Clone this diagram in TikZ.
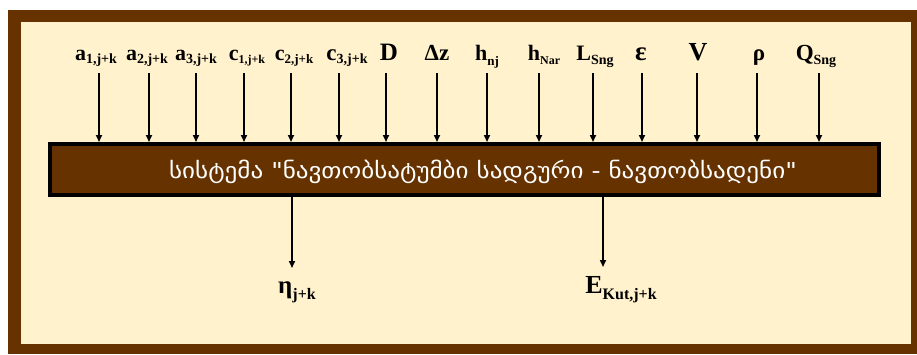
\documentclass[tikz,border=0pt]{standalone}
\usepackage{fontspec}
\setmainfont{Liberation Serif}
\newfontfamily\geofont{DejaVu Sans}
\usetikzlibrary{arrows.meta}
\definecolor{framebrown}{HTML}{663300}
\definecolor{cream}{HTML}{FFF2CC}
\newcommand{\lbl}[5]{{\fontsize{#1}{#1}\selectfont\bfseries #2}{\fontsize{#3}{#3}\selectfont\bfseries\raisebox{#5}{#4}}}
\newcommand{\mlab}[2]{{\fontsize{#1}{#1}\selectfont\bfseries #2}}
\begin{document}
\begin{tikzpicture}[x=1pt,y=-1pt,
  arr/.style={line width=1.6pt, -{Triangle[length=7pt,width=6pt]}},
  toplab/.style={anchor=base, inner sep=0pt},
  ]
\useasboundingbox (0,0) rectangle (917,354);
\fill[white] (0,0) rectangle (917,354);
\fill[framebrown] (8,10) rectangle (917,354);
\fill[cream] (21,22) rectangle (911,344);
\node[draw=black, line width=4pt, fill=framebrown, minimum width=829pt, minimum height=51pt, inner sep=0pt] (box) at (464.5,169.5) {};
\node[text=white, inner sep=0pt] (title) at (483,172) {\scalebox{1.14}[1]{\geofont\fontsize{22}{22}\selectfont სისტემა "ნავთობსატუმბი სადგური - ნავთობსადენი"}};
% top labels
\node[toplab] (l1) at (96,60) {\lbl{22}{a}{14}{1,j+k}{-3pt}};
\node[toplab] (l2) at (147,60) {\lbl{22}{a}{14}{2,j+k}{-3pt}};
\node[toplab] (l3) at (196,60) {\lbl{22}{a}{14}{3,j+k}{-3pt}};
\node[toplab] (l4) at (247,60) {\lbl{22}{c}{12}{1,j+k}{-3pt}};
\node[toplab] (l5) at (294,60) {\lbl{22}{c}{13}{2,j+k}{-3pt}};
\node[toplab] (l6) at (347,60) {\lbl{23}{c}{14}{3,j+k}{-3pt}};
\node[toplab] (l7) at (389,60) {\mlab{25}{D}};
\node[toplab] (l8) at (437,60) {\mlab{23}{Δz}};
\node[toplab] (l9) at (487,60) {\lbl{22}{h}{13}{nj}{-5pt}};
\node[toplab] (l10) at (544,60) {\lbl{22}{h}{12}{Nar}{-4pt}};
\node[toplab] (l11) at (595,60) {\lbl{22}{L}{14}{Sng}{-4pt}};
\node[toplab] (l12) at (641,60) {\mlab{27}{ε}};
\node[toplab] (l13) at (698,60) {\mlab{26}{V}};
\node[toplab] (l14) at (759,60) {\mlab{23}{ρ}};
\node[toplab] (l15) at (816,60) {\lbl{23}{Q}{14}{Sng}{-4pt}};
% top arrows
\foreach \i/\ax in {1/99,2/149,3/196,4/244,5/291,6/339,7/386,8/437,9/487,10/539,11/593,12/642,13/697,14/757,15/819}{
  \coordinate (s\i) at (\ax,73);
  \draw[arr] (s\i) -- (s\i |- box.north);
}
% bottom
\coordinate (b1) at (292,268);
\draw[arr] (b1 |- box.south) -- (b1);
\node[toplab] (eta) at (297,293) {\lbl{25}{η}{16}{j+k}{-6pt}};
\coordinate (b2) at (603,267);
\draw[arr] (b2 |- box.south) -- (b2);
\node[toplab] (ekut) at (621,293) {\lbl{26}{E}{16}{Kut,j+k}{-6pt}};
\end{tikzpicture}
\end{document}
